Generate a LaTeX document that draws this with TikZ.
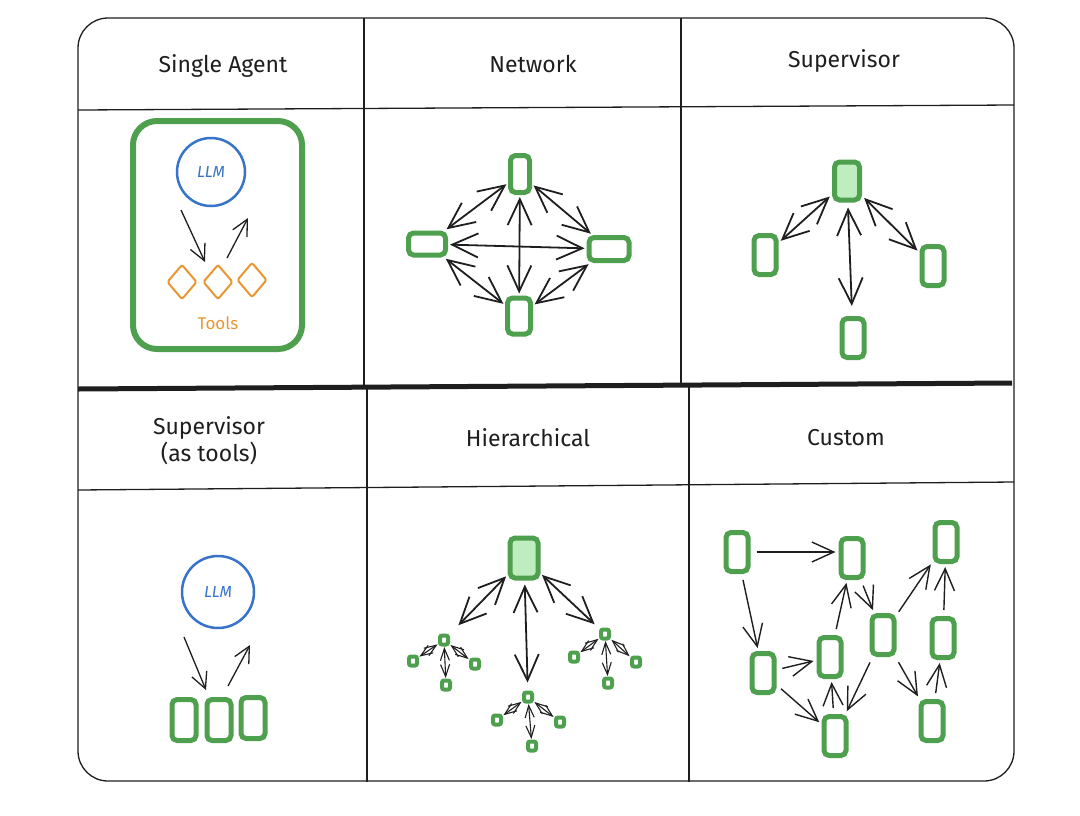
\documentclass[tikz,border=0pt]{standalone}
\usepackage{fontspec}
\setmainfont{Fira Sans}
\usetikzlibrary{arrows.meta,shapes.geometric}
\definecolor{agreen}{RGB}{78,160,78}
\definecolor{lgreen}{RGB}{190,238,192}
\definecolor{ablue}{RGB}{55,115,200}
\definecolor{aorange}{RGB}{232,150,50}
\definecolor{ink}{RGB}{30,30,30}
\begin{document}
\begin{tikzpicture}[x=1pt,y=-1pt,
 frm/.style={draw=ink, line width=1.3pt},
 ttl/.style={font=\fontsize{23}{27}\selectfont, text=ink, align=center},
 gn/.style={draw=agreen, line width=5pt, rounded corners=5pt, fill=white, inner sep=0pt, minimum width=22pt, minimum height=39pt},
 sn/.style={draw=agreen, line width=4pt, rounded corners=2pt, fill=white, inner sep=0pt, minimum width=8pt, minimum height=9pt},
 llmc/.style={circle, draw=ablue, line width=2.5pt, text=ablue, inner sep=0pt, font=\itshape\fontsize{16}{18}\selectfont},
 tool/.style={diamond, draw=aorange, line width=2pt, rounded corners=2pt, inner sep=0pt, minimum width=30pt, minimum height=35pt},
 sarrow/.style={draw=ink, line width=1.3pt, -{Straight Barb[length=16pt,width=16pt]}},
 arr/.style={draw=ink, line width=1.4pt, -{Straight Barb[length=22pt,width=20pt]}},
 darr/.style={draw=ink, line width=1.8pt, {Straight Barb[length=26pt,width=24pt]}-{Straight Barb[length=26pt,width=24pt]}},
 harr/.style={draw=ink, line width=1.1pt, {Straight Barb[length=12pt,width=9pt]}-{Straight Barb[length=12pt,width=9pt]}},
]
\useasboundingbox (0,0) rectangle (1080,815);
% frame
\draw[frm, rounded corners=30pt] (78,18) rectangle (1014,781);
\draw[frm] (78,110) -- (1014,105);
\draw[frm] (78,490) -- (1014,482);
\draw[draw=ink, line width=5pt] (78,389) -- (1012,383);
\draw[frm] (364,18) -- (364,387);
\draw[frm] (681,18) -- (681,385);
\draw[frm] (367,387) -- (367,782);
\draw[frm] (689,385) -- (689,782);
% titles
\node[ttl] (t1) at (223,66) {Single Agent};
\node[ttl] (t2) at (533,64) {Network};
\node[ttl] (t3) at (844,61) {Supervisor};
\node[ttl] (t4) at (209,441) {Supervisor\\(as tools)};
\node[ttl] (t5) at (528,438) {Hierarchical};
\node[ttl] (t6) at (846,438) {Custom};
% single agent
\node[draw=agreen, line width=6pt, rounded corners=24pt, minimum width=169pt, minimum height=228pt] (sa) at (217.5,235) {};
\node[llmc, minimum size=68pt] (llm1) at (211,172) {LLM};
\node[tool] (d1) at (182,282) {};
\node[tool] (d2) at (218,282) {};
\node[tool] (d3) at (252,280) {};
\node[text=aorange, font=\fontsize{17}{19}\selectfont] (tools) at (218,323) {Tools};
\coordinate (sa1) at (181,210);
\coordinate (sa2) at (205,262);
\coordinate (sa3) at (227,258);
\coordinate (sa4) at (248,218);
\draw[sarrow] (sa1) -- (sa2);
\draw[sarrow] (sa3) -- (sa4);
% network
\node[gn, minimum width=19pt, minimum height=37pt] (nt) at (520,174) {};
\node[gn, minimum width=37pt, minimum height=22pt] (nl) at (427,244) {};
\node[gn, minimum width=40pt, minimum height=23pt] (nr) at (609,249) {};
\node[gn, minimum width=23pt, minimum height=36pt] (nb) at (519,316) {};
\draw[darr, shorten <=2pt, shorten >=2pt] (nt) -- (nl);
\draw[darr, shorten <=2pt, shorten >=2pt] (nt) -- (nr);
\draw[darr, shorten <=2pt, shorten >=2pt] (nb) -- (nl);
\draw[darr, shorten <=2pt, shorten >=2pt] (nb) -- (nr);
\draw[darr, shorten <=2pt, shorten >=2pt] (nl) -- (nr);
\draw[darr, shorten <=2pt, shorten >=2pt] (nt) -- (nb);
% supervisor
\node[gn, fill=lgreen, minimum width=25pt, minimum height=38pt] (sv) at (847,181) {};
\node[gn] (s1) at (765,255) {};
\node[gn] (s2) at (933,266) {};
\node[gn] (s3) at (853,338) {};
\draw[darr, shorten <=3pt, shorten >=3pt] (sv) -- (s1);
\draw[darr, shorten <=3pt, shorten >=3pt] (sv) -- (s2);
\draw[darr, shorten <=5pt, shorten >=10pt] (sv) -- (s3);
% supervisor as tools
\node[llmc, minimum size=72pt] (llm2) at (218,592) {LLM};
\node[gn, minimum width=24pt, minimum height=41pt] (b1) at (184,720) {};
\node[gn, minimum width=24pt, minimum height=41pt] (b2) at (219,720) {};
\node[gn, minimum width=24pt, minimum height=41pt] (b3) at (253,718) {};
\coordinate (st1) at (184,637);
\coordinate (st2) at (206,690);
\coordinate (st3) at (228,686);
\coordinate (st4) at (250,645);
\draw[sarrow] (st1) -- (st2);
\draw[sarrow] (st3) -- (st4);
% hierarchical
\node[gn, fill=lgreen, minimum width=28pt, minimum height=40pt] (h0) at (524,558) {};
\node[sn] (h1) at (444,640) {};
\node[sn] (h2) at (528,697) {};
\node[sn] (h3) at (605,634) {};
\node[sn] (h1a) at (413,661) {};
\node[sn] (h1b) at (475,664) {};
\node[sn] (h1c) at (446,685) {};
\node[sn] (h2a) at (497,720) {};
\node[sn] (h2b) at (560,722) {};
\node[sn] (h2c) at (532,746) {};
\node[sn] (h3a) at (574,657) {};
\node[sn] (h3b) at (636,662) {};
\node[sn] (h3c) at (608,683) {};
\draw[darr, shorten <=2pt, shorten >=12pt] (h0) -- (h1);
\draw[darr, shorten <=4pt, shorten >=8pt] (h0) -- (h2);
\draw[darr, shorten <=2pt, shorten >=6pt] (h0) -- (h3);
\foreach \p in {h1,h2,h3}{
  \foreach \c in {a,b,c}{
    \draw[harr, shorten <=0.5pt, shorten >=0.5pt] (\p) -- (\p\c);
  }
}
% custom
\node[gn] (cA) at (737,552) {};
\node[gn] (cB) at (852,558) {};
\node[gn] (cC) at (946,542) {};
\node[gn] (cD) at (763,673) {};
\node[gn] (cE) at (830,657) {};
\node[gn] (cF) at (883,635) {};
\node[gn] (cG) at (943,638) {};
\node[gn] (cH) at (835,736) {};
\node[gn] (cI) at (932,721) {};
\draw[arr, shorten <=6pt, shorten >=3pt] (cA.east) -- (cA.east -| cB.west);
\draw[arr, shorten <=6pt, shorten >=3pt] (cA) -- (cD);
\draw[arr, shorten <=6pt, shorten >=3pt] (cD) -- (cE);
\draw[arr, shorten <=6pt, shorten >=3pt] (cD) -- (cH);
\draw[arr, shorten <=6pt, shorten >=3pt] (cH) -- (cE);
\draw[arr, shorten <=6pt, shorten >=3pt] (cE) -- (cB);
\draw[arr, shorten <=6pt, shorten >=3pt] (cB) -- (cF);
\draw[arr, shorten <=4pt, shorten >=3pt] (cF) -- (cC);
\draw[arr, shorten <=6pt, shorten >=3pt] (cF) -- (cH);
\draw[arr, shorten <=6pt, shorten >=3pt] (cF) -- (cI);
\draw[arr, shorten <=6pt, shorten >=3pt] (cI) -- (cG);
\draw[arr, shorten <=6pt, shorten >=3pt] (cG) -- (cC);
\end{tikzpicture}
\end{document}
